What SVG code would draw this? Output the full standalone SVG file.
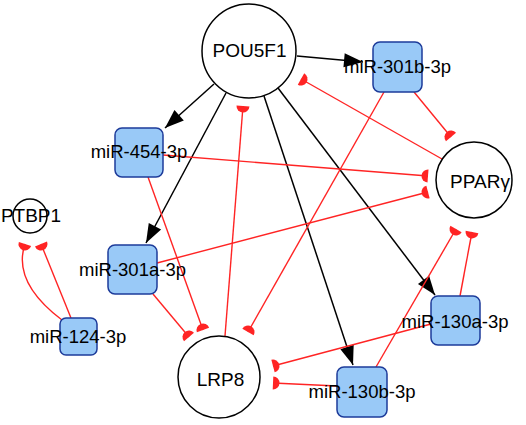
<svg xmlns="http://www.w3.org/2000/svg" width="526" height="425" viewBox="0 0 526 425">
<style>
.act{stroke:#000;stroke-width:1.5;fill:none;marker-end:url(#arr)}
.inh{stroke:#ff2424;stroke-width:1.4;fill:none;marker-end:url(#tee)}
.gene{fill:#fff;stroke:#000;stroke-width:1.5}
.mir{fill:#99c9f7;stroke:#1d3b9a;stroke-width:1.5}
text{font-family:"Liberation Sans",Arial,sans-serif;fill:#000;text-anchor:middle}
.g{font-size:19px}
.m{font-size:18.5px}
</style>
<defs>
<marker id="arr" markerUnits="userSpaceOnUse" markerWidth="22" markerHeight="18" viewBox="-21 -9 22 18" refX="0" refY="0" orient="auto">
<path d="M0,0 L-19,-7 L-19,7 Z" fill="#000"/>
</marker>
<marker id="tee" markerUnits="userSpaceOnUse" markerWidth="10" markerHeight="16" viewBox="-8 -8 10 16" refX="0" refY="0" orient="auto">
<path d="M0,-6.5 A6.5,6.5 0 0 0 0,6.5 Z" fill="#ff2424"/>
</marker>
</defs>
<g id="edges">
<line class="act" x1="297" y1="56" x2="363" y2="62"/>
<line class="act" x1="214" y1="84" x2="165" y2="128"/>
<line class="act" x1="226" y1="93" x2="146" y2="243"/>
<line class="act" x1="264" y1="96" x2="353" y2="365"/>
<line class="act" x1="278" y1="88" x2="435" y2="295"/>
<line class="inh" x1="442" y1="159" x2="301" y2="79"/>
<line class="inh" x1="414" y1="92" x2="451" y2="137"/>
<line class="inh" x1="384" y1="92" x2="248" y2="332"/>
<line class="inh" x1="163" y1="155" x2="428" y2="176"/>
<line class="inh" x1="157" y1="263" x2="428" y2="192"/>
<line class="inh" x1="148" y1="177" x2="203" y2="330"/>
<line class="inh" x1="153" y1="294" x2="189" y2="337"/>
<line class="inh" x1="225" y1="336" x2="243" y2="106"/>
<line class="inh" x1="431" y1="324" x2="273" y2="366"/>
<line class="inh" x1="337" y1="386" x2="273" y2="383"/>
<line class="inh" x1="376" y1="367" x2="456" y2="229"/>
<line class="inh" x1="460" y1="296" x2="472" y2="232"/>
<line class="inh" x1="71" y1="318" x2="41" y2="244"/>
<path class="inh" d="M62,320 Q12,282 25,244"/>
</g>
<g id="POU5F1"><circle class="gene" cx="249" cy="51" r="47"/><text class="g" x="249.5" y="57">POU5F1</text></g>
<g id="PPARG"><circle class="gene" cx="474" cy="180" r="38"/><text class="g" x="480" y="188">PPARγ</text></g>
<g id="LRP8"><circle class="gene" cx="219" cy="377" r="41"/><text class="g" x="220.5" y="386">LRP8</text></g>
<g id="PTBP1"><circle class="gene" cx="30" cy="216" r="17"/><text class="g" x="31" y="222">PTBP1</text></g>
<g id="miR-301b-3p"><rect class="mir" x="373" y="42" width="49" height="50" rx="7"/><text class="m" x="397.5" y="73">miR-301b-3p</text></g>
<g id="miR-454-3p"><rect class="mir" x="115" y="128" width="48" height="49" rx="7"/><text class="m" x="139" y="158">miR-454-3p</text></g>
<g id="miR-301a-3p"><rect class="mir" x="108" y="245" width="49" height="49" rx="7"/><text class="m" x="132.5" y="276">miR-301a-3p</text></g>
<g id="miR-124-3p"><rect class="mir" x="60" y="318" width="37" height="37" rx="6"/><text class="m" x="78" y="343">miR-124-3p</text></g>
<g id="miR-130a-3p"><rect class="mir" x="431" y="296" width="49" height="49" rx="7"/><text class="m" x="455" y="328">miR-130a-3p</text></g>
<g id="miR-130b-3p"><rect class="mir" x="337" y="367" width="50" height="50" rx="7"/><text class="m" x="362" y="398">miR-130b-3p</text></g>
</svg>
